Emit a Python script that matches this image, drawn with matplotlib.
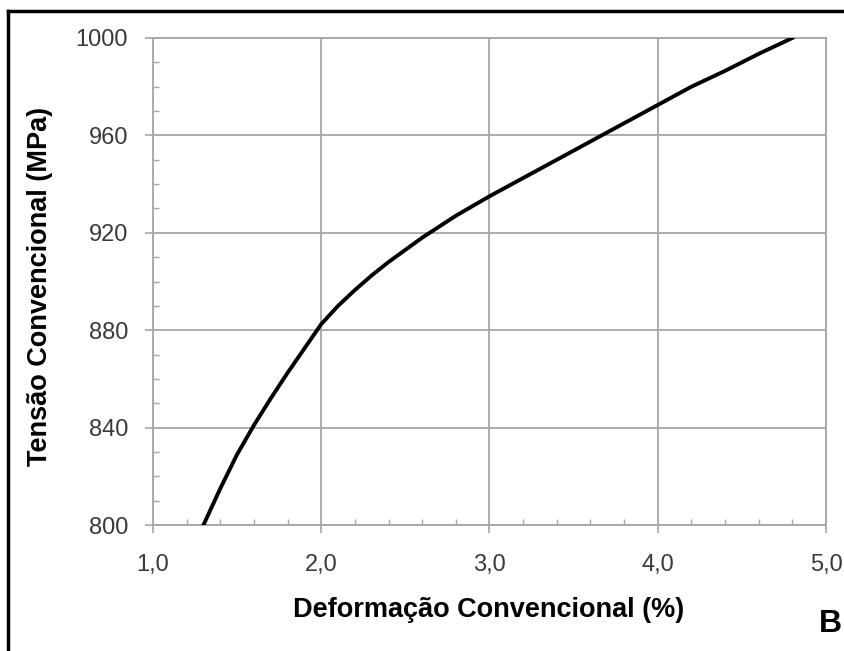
import matplotlib
matplotlib.use("Agg")
import matplotlib.pyplot as plt
from matplotlib.lines import Line2D
from matplotlib.ticker import MultipleLocator

# strain (%) vs stress (MPa)
strain = [1.30, 1.40, 1.50, 1.60, 1.70, 1.80, 1.90, 2.00, 2.10, 2.20,
          2.30, 2.40, 2.50, 2.60, 2.70, 2.80, 2.90, 3.00, 3.20, 3.40,
          3.60, 3.80, 4.00, 4.20, 4.40, 4.60, 4.80]
stress = [800, 815, 829, 841, 852, 862.5, 872.5, 882.5, 890, 896.5,
          902.5, 908, 913, 918, 922.5, 927, 931, 935, 942.5, 950,
          957.5, 965, 972.5, 980, 986.5, 993.5, 1000]

x_ticks = [1.0, 2.0, 3.0, 4.0, 5.0]
x_labels = ['1,0', '2,0', '3,0', '4,0', '5,0']
y_ticks = [800, 840, 880, 920, 960, 1000]

plt.rcParams['font.family'] = ['Liberation Sans', 'DejaVu Sans']

fig = plt.figure(figsize=(8.45, 6.51), dpi=100)
ax = fig.add_axes([153 / 845, 1 - 525 / 651, (826 - 153) / 845, (525 - 38) / 651])

grid_col = '#a6a6a6'
ax.plot(strain, stress, color='black', lw=2.8, solid_joinstyle='round', zorder=3)

ax.set_xlim(1.0, 5.0)
ax.set_ylim(800, 1000)
ax.set_xticks(x_ticks)
ax.set_xticklabels(x_labels)
ax.set_yticks(y_ticks)
ax.xaxis.set_minor_locator(MultipleLocator(0.2))
ax.yaxis.set_minor_locator(MultipleLocator(10))

ax.grid(True, which='major', color=grid_col, lw=1.3)
for s in ax.spines.values():
    s.set_color(grid_col)
    s.set_linewidth(1.3)

ax.tick_params(which='major', direction='out', length=6, width=1.2, color=grid_col,
               labelsize=17, labelcolor='#3a3a3a')
ax.tick_params(axis='y', which='major', pad=12)
ax.tick_params(axis='x', which='major', pad=15)
ax.tick_params(which='minor', direction='in', length=4, width=1.0, color=grid_col)

ax.set_xlabel('Deformação Convencional (%)', fontsize=19.5, fontweight='bold', va='center')
ax.xaxis.set_label_coords(0.499, -0.1745)
ax.set_ylabel('Tensão Convencional (MPa)', fontsize=19.5, fontweight='bold', va='center')
ax.yaxis.set_label_coords(-0.168, 0.489)

fig.text(830 / 845, 1 - 624 / 651, 'B', fontsize=23, fontweight='bold',
         ha='center', va='center')

# frame of the original figure panel (left and top edges visible)
fig.add_artist(Line2D([8 / 845, 8 / 845], [0, 1 - 11 / 651], transform=fig.transFigure,
                      color='black', lw=2.5))
fig.add_artist(Line2D([8 / 845, 1], [1 - 11 / 651, 1 - 11 / 651], transform=fig.transFigure,
                      color='black', lw=2.5))

fig.savefig('out.png', dpi=100)
